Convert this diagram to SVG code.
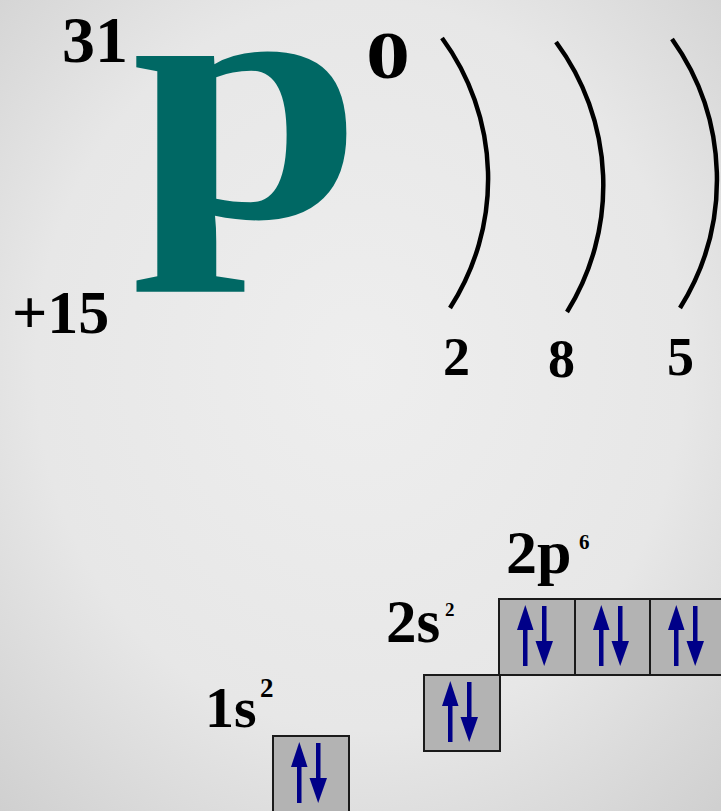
<svg xmlns="http://www.w3.org/2000/svg" width="721" height="811" viewBox="0 0 721 811">
<style>
.num{font-family:"Liberation Serif",serif;font-weight:bold;fill:#000}
.sym{font-family:"Liberation Serif",serif;font-weight:bold;fill:#006864}
.shell{fill:none;stroke:#000;stroke-width:4.5;stroke-linecap:butt}
.box{fill:#b3b3b3;stroke:#1a1a1a;stroke-width:2}
.arr{fill:#000088}
</style>
<defs>
<radialGradient id="bg" cx="50%" cy="45%" r="75%">
<stop offset="0" stop-color="#eeeeee"/>
<stop offset="0.6" stop-color="#e7e7e7"/>
<stop offset="1" stop-color="#cfcfcf"/>
</radialGradient>
<g id="pair">
<rect x="24" y="28" width="4.5" height="39" class="arr"/>
<polygon points="26.3,6 34.5,31 18,31" class="arr"/>
<rect x="43" y="7" width="4.5" height="36" class="arr"/>
<polygon points="45.2,67 36.5,42 54,42" class="arr"/>
</g>
</defs>
<rect width="721" height="811" fill="url(#bg)"/>
<g id="element">
<text class="num" x="62" y="62" font-size="66">31</text>
<text class="sym" x="0" y="0" font-size="351" transform="translate(131,217) scale(1.19,1)">p</text>
<text class="num" x="366" y="78" font-size="68" textLength="44" lengthAdjust="spacingAndGlyphs">0</text>
<text class="num" x="12" y="333" font-size="62">+15</text>
</g>
<g id="shells">
<path class="shell" d="M442,38 A238,238 0 0 1 450,308"/>
<path class="shell" d="M556,42 A240,240 0 0 1 567,312"/>
<path class="shell" d="M672,39 A242,242 0 0 1 680,308"/>
<text class="num" x="443" y="375" font-size="54">2</text>
<text class="num" x="548" y="377" font-size="54">8</text>
<text class="num" x="667" y="375" font-size="54">5</text>
</g>
<g id="orbital-1s">
<text class="num" x="205" y="727" font-size="58">1s</text>
<text class="num" x="260" y="697" font-size="27">2</text>
<rect class="box" x="273" y="736" width="76" height="80"/>
<use href="#pair" x="273" y="736"/>
</g>
<g id="orbital-2s">
<text class="num" x="386" y="642" font-size="61">2s</text>
<text class="num" x="445" y="616" font-size="19">2</text>
<rect class="box" x="424" y="675" width="76" height="76"/>
<use href="#pair" x="424" y="675"/>
</g>
<g id="orbital-2p">
<text class="num" x="506" y="573" font-size="62">2p</text>
<text class="num" x="579" y="549" font-size="21">6</text>
<rect class="box" x="499" y="599" width="76" height="76"/>
<rect class="box" x="575" y="599" width="75" height="76"/>
<rect class="box" x="650" y="599" width="76" height="76"/>
<use href="#pair" x="499" y="599"/>
<use href="#pair" x="575" y="599"/>
<use href="#pair" x="650" y="599"/>
</g>
</svg>
